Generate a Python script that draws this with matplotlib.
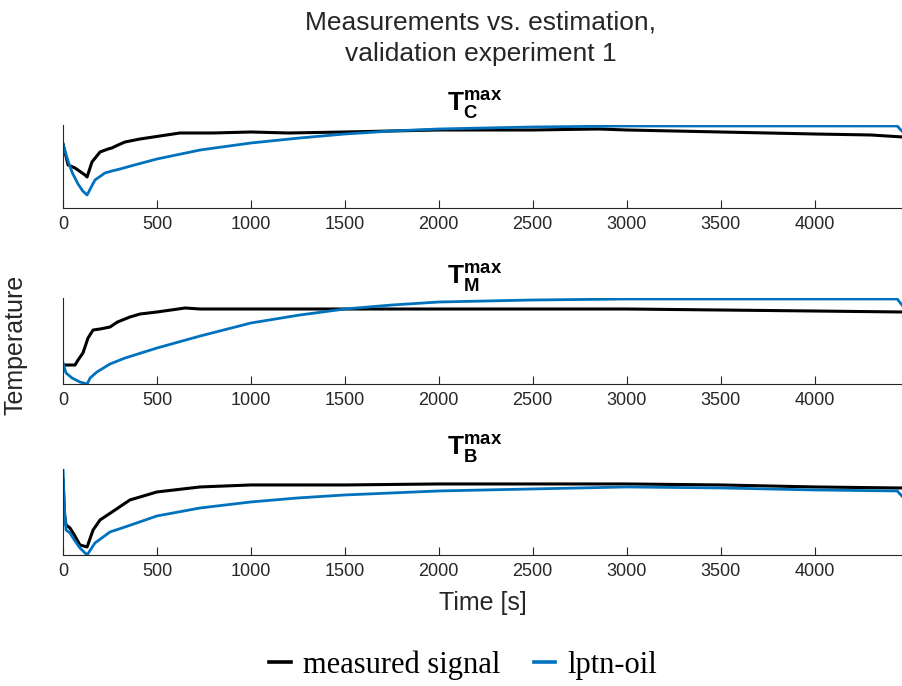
import matplotlib.pyplot as plt

plt.rcParams['font.family'] = 'Liberation Sans'
plt.rcParams['mathtext.fontset'] = 'custom'
plt.rcParams['mathtext.bf'] = 'Liberation Sans:bold'
plt.rcParams['mathtext.rm'] = 'Liberation Sans'

# ---------- data (relative temperature) ----------
# T_C^max
tc_meas_t = [0, 27, 64, 117, 128, 154, 197, 240, 260, 293, 330, 410, 516, 622,
             800, 1000, 1200, 1500, 1750, 2000, 2500, 2850, 3000, 3500, 4000,
             4300, 4470]
tc_meas_y = [64, 43, 40, 33, 31, 46, 56, 59, 60, 63, 66, 69, 72, 75,
             75, 76, 75, 76, 77, 78, 78, 79, 78, 76, 74, 73, 71]
tc_est_t = [0, 15, 30, 50, 80, 105, 128, 170, 223, 260, 303, 400, 500, 730,
            1000, 1260, 1500, 1750, 2000, 2500, 3000, 3500, 4000, 4440, 4470]
tc_est_y = [64, 54, 45, 35, 24, 17, 13, 28, 35, 37, 39, 44, 49, 58,
            65, 70, 74, 77, 79, 81, 82, 82, 82, 82, 76]

# T_M^max
tm_meas_t = [0, 64, 80, 106, 133, 160, 197, 250, 290, 356, 410, 500, 650, 730,
             1000, 1500, 2000, 2500, 3000, 3500, 4000, 4470]
tm_meas_y = [19, 19, 24, 31, 46, 54, 55, 57, 62, 67, 70, 72, 76, 75,
             75, 75, 75, 75, 75, 74, 73, 72]
tm_est_t = [0, 16, 48, 90, 128, 144, 180, 250, 330, 500, 730, 1000, 1260,
            1500, 1750, 2000, 2500, 3000, 3500, 4000, 4440, 4470]
tm_est_y = [21, 11, 6, 2, 0, 6, 12, 20, 26, 36, 48, 61, 69,
            75, 79, 82, 84, 85, 85, 85, 85, 78]

# T_B^max
tb_meas_t = [0, 8, 16, 37, 60, 90, 128, 160, 197, 277, 356, 500, 730, 1000,
             1500, 2000, 2500, 3000, 3500, 4000, 4440, 4470]
tb_meas_y = [75, 40, 30, 27, 20, 10, 8, 25, 35, 45, 55, 63, 68, 70,
             70, 71, 71, 71, 70, 68, 67, 67]
tb_est_t = [0, 8, 16, 37, 60, 90, 128, 170, 250, 330, 500, 730, 1000, 1250,
            1500, 1750, 2000, 2500, 3000, 3500, 4000, 4440, 4470]
tb_est_y = [85, 45, 25, 22, 15, 7, 0, 12, 23, 28, 39, 47, 53, 57,
            60, 62, 64, 66, 68, 67, 65, 64, 58]

panels = [
    (r'$\mathbf{T}_\mathbf{C}^\mathbf{max}$', tc_meas_t, tc_meas_y, tc_est_t, tc_est_y, 83),
    (r'$\mathbf{T}_\mathbf{M}^\mathbf{max}$', tm_meas_t, tm_meas_y, tm_est_t, tm_est_y, 86),
    (r'$\mathbf{T}_\mathbf{B}^\mathbf{max}$', tb_meas_t, tb_meas_y, tb_est_t, tb_est_y, 86),
]

axis_color = '#262626'
blue = '#0072BD'

fig = plt.figure(figsize=(9.03, 6.86), dpi=100)

# axes boxes in figure fraction (left, bottom, width, height)
boxes = [(0.0698, 0.6968, 0.93, 0.121),
         (0.0698, 0.4402, 0.93, 0.1254),
         (0.0698, 0.1910, 0.93, 0.1254)]

axes = []
for box, (title, mt, my, et, ey, top) in zip(boxes, panels):
    ax = fig.add_axes(box)
    lm, = ax.plot(mt, my, color='black', lw=2.2, label='measured signal')
    le, = ax.plot(et, ey, color=blue, lw=2.0, label='lptn-oil')
    ax.set_xlim(0, 4470)
    ax.set_ylim(0, top)
    ax.set_xticks(range(0, 4001, 500))
    ax.set_yticks([])
    ax.tick_params(axis='x', direction='in', length=6, width=0.8,
                   colors=axis_color, labelsize=13, pad=6)
    for side in ('top', 'right'):
        ax.spines[side].set_visible(False)
    for side in ('left', 'bottom'):
        ax.spines[side].set_color(axis_color)
        ax.spines[side].set_linewidth(0.8)
    ax.set_title(title, fontsize=19, pad=10, x=0.49)
    axes.append(ax)

axes[-1].set_xlabel('Time [s]', fontsize=18, color=axis_color, labelpad=8)
fig.text(0.017, 0.497, 'Temperature', rotation=90, ha='center', va='center',
         fontsize=18, color=axis_color)

fig.text(0.532, 0.967, 'Measurements vs. estimation,', ha='center', va='center',
         fontsize=19, color=axis_color)
fig.text(0.532, 0.922, 'validation experiment 1', ha='center', va='center',
         fontsize=19, color=axis_color)

leg = fig.legend(handles=[lm, le], loc='center', bbox_to_anchor=(0.513, 0.03),
                 ncol=2, frameon=False, handlelength=0.7, handletextpad=0.4,
                 columnspacing=1.1, prop={'family': 'Liberation Serif', 'size': 22})
for h in leg.legend_handles:
    h.set_linewidth(2.6)

plt.savefig('out.png', dpi=100)
